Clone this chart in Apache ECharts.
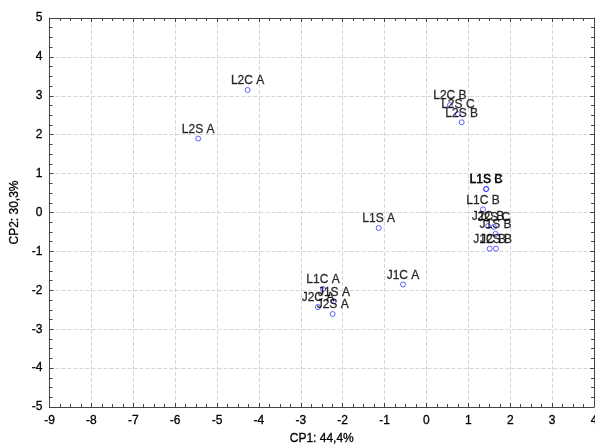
<!DOCTYPE html>
<html>
<head>
<meta charset="utf-8">
<script src="https://cdn.jsdelivr.net/npm/echarts@6/dist/echarts.min.js"></script>
<style>
  html, body { margin: 0; padding: 0; background: #fff; }
  #chart { width: 595px; height: 446px; }
</style>
</head>
<body>
<div id="chart"></div>
<script>
// sample names and their scores on the two components
const names = ['L2C A', 'L2S A', 'L1S A', 'J1C A', 'L1C A', 'J1S A', 'J2C A', 'J2S A',
  'L2C B', 'L2S C', 'L2S B', 'L1S B', 'L1S C', 'L1C B', 'J2C B', 'J2S C', 'J1S B', 'J1C B', 'J2S B']
const cp1 = [-4.27, -5.45, -1.14, -0.56, -2.47, -2.21, -2.59, -2.24,
  0.56, 0.75, 0.84, 1.42, 1.43, 1.35, 1.47, 1.61, 1.65, 1.51, 1.66]
const cp2 = [3.15, 1.90, -0.40, -1.85, -1.97, -2.28, -2.43, -2.61,
  2.76, 2.53, 2.32, 0.60, 0.61, 0.08, -0.35, -0.37, -0.55, -0.93, -0.93]

const xName = 'CP1: 44,4%'
const yName = 'CP2: 30,3%'

const font = 'Liberation Sans, Arial, sans-serif'
const axisColor = '#444'

const myChart = echarts.init(document.getElementById('chart'))

function baseAxis(extra) {
  return Object.assign({
    type: 'value',
    axisLine: { show: true, onZero: false, lineStyle: { color: axisColor, width: 1 } },
    axisTick: { show: true, inside: true, length: 4, lineStyle: { color: axisColor } },
    minorTick: { show: true, splitNumber: 4, length: 3, lineStyle: { color: axisColor } },
    splitLine: { show: false },
    axisLabel: { show: false }
  }, extra)
}

// slightly heavier text, closer to the original rendering
const darkText = { color: '#000', fontSize: 12, fontFamily: font, textBorderColor: '#000', textBorderWidth: 0.3 }

const option = {
  animation: false,
  backgroundColor: '#fff',
  grid: { left: 49.5, top: 18, right: 1, bottom: 39, outerBoundsMode: 'none', containLabel: false },
  xAxis: [
    baseAxis({
      min: -9, max: 4, interval: 1,
      name: xName,
      nameLocation: 'middle',
      nameGap: 20,
      nameTextStyle: Object.assign({}, darkText),
      axisLabel: Object.assign({ show: true, margin: 8, hideOverlap: false }, darkText),
      splitLine: { show: true, lineStyle: { color: '#d6d6d6', type: [4, 2], width: 1 } }
    }),
    baseAxis({ min: -9, max: 4, interval: 1, position: 'top' })
  ],
  yAxis: [
    baseAxis({
      min: -5, max: 5, interval: 1,
      name: yName,
      nameLocation: 'middle',
      nameGap: 22,
      nameTextStyle: Object.assign({}, darkText),
      axisLabel: Object.assign({ show: true, margin: 7 }, darkText),
      splitLine: { show: true, lineStyle: { color: '#d6d6d6', type: [4, 2], width: 1 } }
    }),
    baseAxis({ min: -5, max: 5, interval: 1, position: 'right' })
  ],
  series: [{
    type: 'scatter',
    symbol: 'circle',
    symbolSize: 5,
    itemStyle: { color: 'rgba(0,0,0,0)', borderColor: '#3a3aff', borderWidth: 1 },
    label: Object.assign({
      show: true,
      position: 'top',
      distance: 0,
      lineHeight: 12,
      formatter: function (p) { return p.value[2] }
    }, darkText),
    labelLayout: { hideOverlap: false },
    data: names.map(function (n, i) { return [cp1[i], cp2[i], n] })
  }]
}

myChart.setOption(option)
</script>
</body>
</html>
